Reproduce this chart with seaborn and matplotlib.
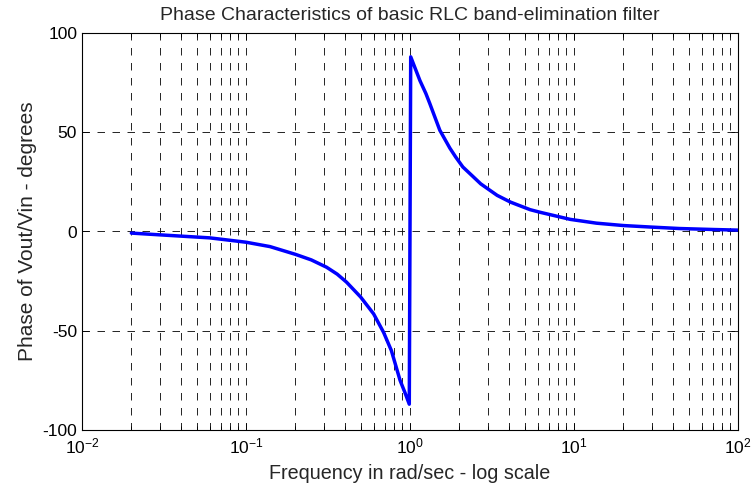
import numpy as np
import pandas as pd
import matplotlib
matplotlib.use("Agg")
import matplotlib.pyplot as plt
from matplotlib.ticker import LogLocator, FixedLocator
import seaborn as sns

# valores (frecuencia en rad/s, fase en grados)
freq = [0.02, 0.03, 0.06, 0.1, 0.14, 0.2, 0.25, 0.31, 0.36, 0.41, 0.5, 0.6,
        0.69, 0.77, 0.87, 0.93, 0.99, 1.01, 1.15, 1.25, 1.32, 1.42, 1.52,
        1.75, 1.9, 2.1, 2.4, 2.7, 3.4, 4.1, 5.4, 6.2, 9.5, 13.7, 20, 30, 44,
        71, 100]
phase = [-0.8, -1.7, -3.2, -5.4, -7.6, -11.5, -14.3, -18.0, -21.5, -25.5,
         -33.0, -41.5, -50.8, -60.0, -75.0, -81.0, -87.0, 88.0, 76.0, 69.5,
         64.5, 57.5, 51.0, 42.0, 37.5, 32.5, 28.0, 24.0, 18.2, 14.8, 11.0,
         9.7, 6.1, 4.2, 3.0, 2.2, 1.5, 1.0, 0.7]

title = "Phase Characteristics of basic RLC band-elimination filter"
xlabel = "Frequency in rad/sec - log scale"
ylabel = "Phase of Vout/Vin - degrees"

sns.set_style("white")
plt.rcParams["font.family"] = ["Liberation Sans", "DejaVu Sans"]
plt.rcParams["mathtext.fontset"] = "custom"
plt.rcParams["mathtext.rm"] = "Liberation Sans"
plt.rcParams["axes.unicode_minus"] = False

df = pd.DataFrame({"freq": freq, "phase": phase})

fig = plt.figure(figsize=(7.53, 4.9), dpi=100)
ax = fig.add_axes([82 / 753, 1 - 430 / 490, (738 - 82) / 753, (430 - 33) / 490])

sns.lineplot(data=df, x="freq", y="phase", ax=ax, color="#0000ff",
             linewidth=2.5, sort=False)

ax.set_xscale("log")
ax.set_xlim(1e-2, 1e2)
ax.set_ylim(-100, 100)
ax.xaxis.set_major_locator(LogLocator(base=10, numticks=10))
ax.xaxis.set_minor_locator(LogLocator(base=10, subs=np.arange(2, 10), numticks=20))
ax.yaxis.set_major_locator(FixedLocator([-100, -50, 0, 50, 100]))

dash = (0, (9, 9))
ax.grid(True, which="major", color="k", linestyle=dash, linewidth=0.6)
ax.grid(True, which="minor", axis="x", color="k", linestyle=dash, linewidth=0.6)

ax.tick_params(which="both", direction="in", top=True, right=True,
               bottom=True, left=True, colors="k")
ax.tick_params(axis="y", labelsize=12.5)
ax.tick_params(axis="x", labelsize=12.5, pad=5)
ax.tick_params(which="major", length=5, width=0.6)
ax.tick_params(which="minor", length=3, width=0.6)
for s in ax.spines.values():
    s.set_color("k")
    s.set_linewidth(0.8)

ax.set_title(title, fontsize=14, pad=9)
ax.set_xlabel(xlabel, fontsize=14.2, labelpad=5)
ax.set_ylabel(ylabel, fontsize=15, labelpad=4)

fig.savefig("out.png", dpi=100)
plt.close(fig)
